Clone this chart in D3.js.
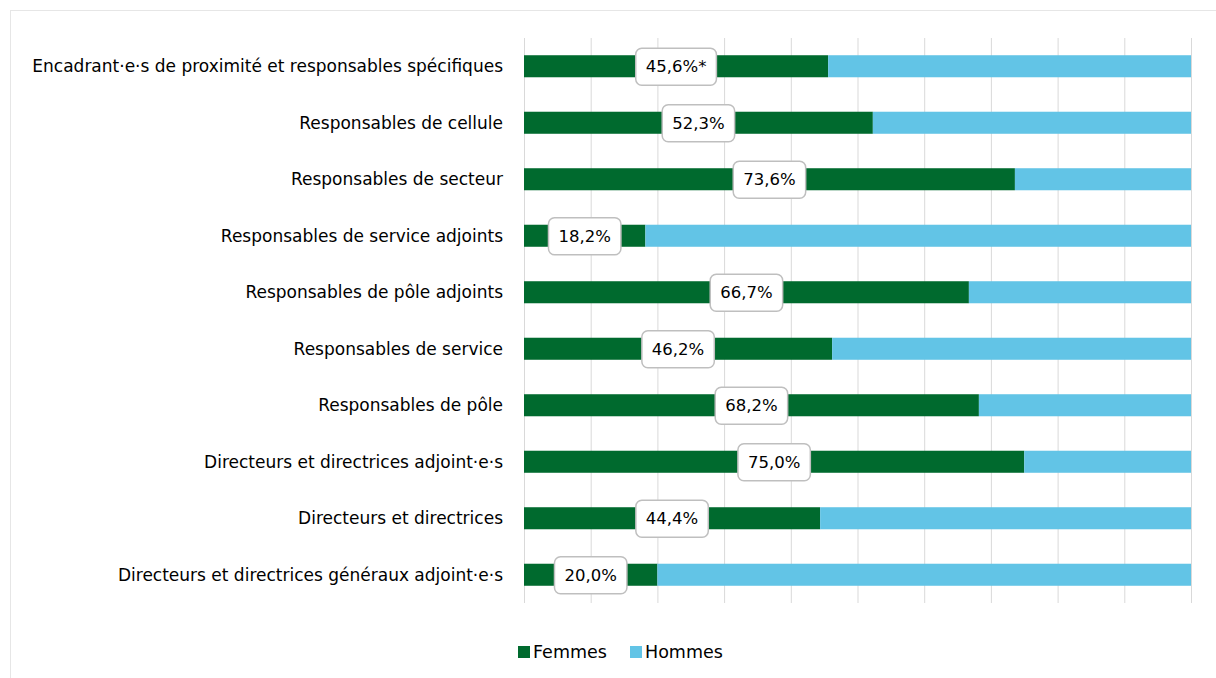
<!DOCTYPE html>
<html>
<head>
<meta charset="utf-8">
<script src="https://cdn.jsdelivr.net/npm/d3@7"></script>
<style>
body { margin: 0; background: #fff; }
text { font-family: "DejaVu Sans", sans-serif; }
</style>
</head>
<body>
<svg id="chart"></svg>
<script>
var width = 1216, height = 678

var categories = [
    "Encadrant·e·s de proximité et responsables spécifiques",
    "Responsables de cellule",
    "Responsables de secteur",
    "Responsables de service adjoints",
    "Responsables de pôle adjoints",
    "Responsables de service",
    "Responsables de pôle",
    "Directeurs et directrices adjoint·e·s",
    "Directeurs et directrices",
    "Directeurs et directrices généraux adjoint·e·s"
]
var femmes = [45.6, 52.3, 73.6, 18.2, 66.7, 46.2, 68.2, 75.0, 44.4, 20.0]
var hommes = femmes.map(v => 100 - v)
var labels = ["45,6%*", "52,3%", "73,6%", "18,2%", "66,7%", "46,2%", "68,2%", "75,0%", "44,4%", "20,0%"]
var series = ["Femmes", "Hommes"]
var colors = ["#006a2e", "#62c4e6"]

var svg = d3.select("#chart")
    .attr("width", width)
    .attr("height", height)

svg.append("rect")
    .attr("x", 10.5).attr("y", 10.5)
    .attr("width", width - 10).attr("height", height - 10)
    .attr("fill", "none")
    .attr("stroke", "#e6e6e6")

var x = d3.scaleLinear()
    .domain([0, 100])
    .range([524, 1191])

var y = d3.scaleBand()
    .domain(categories)
    .range([38, 603])
    .paddingInner(0.61)
    .paddingOuter(0.305)

var band = d3.scaleBand()
    .domain(categories)
    .range([38, 603])

// gridlines
svg.append("g")
    .selectAll("line")
    .data(d3.range(0, 101, 10))
    .enter()
    .append("line")
        .attr("x1", d => x(d) + 0.5)
        .attr("x2", d => x(d) + 0.5)
        .attr("y1", 38)
        .attr("y2", 603)
        .attr("stroke", "#d9d9d9")
        .attr("stroke-width", 1)

// category labels
svg.append("g")
    .selectAll("text")
    .data(categories)
    .enter()
    .append("text")
        .attr("x", 503)
        .attr("y", d => band(d) + band.bandwidth() / 2)
        .attr("dy", "0.35em")
        .attr("text-anchor", "end")
        .attr("font-size", 17)
        .attr("fill", "#000")
        .text(d => d)

// stacked bars
var stack = categories.map((c, i) => ({cat: c, f: femmes[i], h: hommes[i], label: labels[i]}))

var rows = svg.append("g")
    .selectAll("g")
    .data(stack)
    .enter()
    .append("g")

rows.append("rect")
    .attr("x", d => x(0))
    .attr("y", d => y(d.cat))
    .attr("width", d => x(d.f) - x(0))
    .attr("height", y.bandwidth())
    .attr("fill", colors[0])

rows.append("rect")
    .attr("x", d => x(d.f))
    .attr("y", d => y(d.cat))
    .attr("width", d => x(100) - x(d.f))
    .attr("height", y.bandwidth())
    .attr("fill", colors[1])

// data labels
rows.each(function(d) {
    var g = d3.select(this)
    var cx = x(d.f / 2)
    var cy = band(d.cat) + band.bandwidth() / 2
    var t = g.append("text")
        .attr("x", cx)
        .attr("y", cy)
        .attr("dy", "0.35em")
        .attr("text-anchor", "middle")
        .attr("font-size", 16.5)
        .attr("fill", "#000")
        .text(d.label)
    var w = t.node().getComputedTextLength() + 20
    g.insert("rect", "text")
        .attr("x", cx - w / 2)
        .attr("y", cy - 18)
        .attr("width", w)
        .attr("height", 37)
        .attr("rx", 6)
        .attr("fill", "#fff")
        .attr("stroke", "#bfbfbf")
        .attr("stroke-width", 1.5)
})

// legend
var legend = svg.append("g")
var lx = [518, 630]
series.forEach((s, i) => {
    legend.append("rect")
        .attr("x", lx[i])
        .attr("y", 646)
        .attr("width", 12)
        .attr("height", 12)
        .attr("fill", colors[i])
    legend.append("text")
        .attr("x", lx[i] + 15)
        .attr("y", 652)
        .attr("dy", "0.35em")
        .attr("font-size", 17.5)
        .attr("fill", "#000")
        .text(s)
})
</script>
</body>
</html>
